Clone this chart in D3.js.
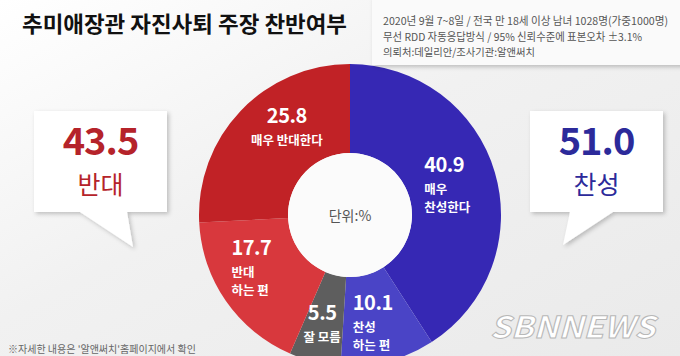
<!DOCTYPE html>
<html><head><meta charset="utf-8">
<script src="https://cdn.jsdelivr.net/npm/d3@7/dist/d3.min.js"></script>
<style>
html,body{margin:0;padding:0;background:#efefef;}
svg{display:block;}
text{font-family:"Noto Sans CJK KR","Noto Sans",sans-serif;}
</style></head>
<body>
<svg id="chart" width="680" height="356"></svg>
<script>
// ---- data ----
const title = "추미애장관 자진사퇴 주장 찬반여부";
const infoLines = [
  "2020년 9월 7~8일 / 전국 만 18세 이상 남녀 1028명(가중1000명)",
  "무선 RDD 자동응답방식 / 95% 신뢰수준에 표본오차 ±3.1%",
  "의뢰처:데일리안/조사기관:알앤써치"
];
const categories = ["매우 찬성한다", "찬성 하는 편", "잘 모름", "반대 하는 편", "매우 반대한다"];
const values = [40.9, 10.1, 5.5, 17.7, 25.8];
const labelLines = [["매우", "찬성한다"], ["찬성", "하는 편"], ["잘 모름"], ["반대", "하는 편"], ["매우 반대한다"]];
const summaryNames = ["반대", "찬성"];
const summaryValues = [43.5, 51.0];
const unitLabel = "단위:%";
const footnote = "※자세한 내용은 '알앤써치'홈페이지에서 확인";

// ---- style ----
const colors = ["#3628b4", "#4a44c6", "#5e5e5e", "#d8383d", "#c12226"];
const labelStyle = [
  {anchor: "start", dx: -28, dy: -3},
  {anchor: "start", dx: -24, dy: 2},
  {anchor: "middle", dx: -3, dy: 3},
  {anchor: "start", dx: -31, dy: -11},
  {anchor: "middle", dx: 14, dy: -17}
];
const lineStep = 18.2;
const infoLengths = [285, 259, 152];
const summaryColors = ["#b5232a", "#2c2a9a"];

const svg = d3.select("#chart");
const W = 680, H = 356;
const defs = svg.append("defs");
const bg = defs.append("linearGradient").attr("id", "bg").attr("x1", 0).attr("y1", 0).attr("x2", 1).attr("y2", 1);
bg.append("stop").attr("offset", "0%").attr("stop-color", "#ffffff");
bg.append("stop").attr("offset", "45%").attr("stop-color", "#f1f1f1");
bg.append("stop").attr("offset", "100%").attr("stop-color", "#eaeaea");
const sh = defs.append("filter").attr("id", "shadow").attr("x", "-20%").attr("y", "-20%").attr("width", "150%").attr("height", "150%");
sh.append("feDropShadow").attr("dx", 2).attr("dy", 2).attr("stdDeviation", 2).attr("flood-color", "#000").attr("flood-opacity", 0.22);

svg.append("rect").attr("width", W).attr("height", H).attr("fill", "url(#bg)");

// ---- donut ----
const cx = 350, cy = 215, rOuter = 151, rInner = 62;
const pie = d3.pie().sort(null).value(d => d);
const arcs = pie(values);
const arc = d3.arc().innerRadius(rInner).outerRadius(rOuter);
const g = svg.append("g").attr("transform", `translate(${cx},${cy})`);
g.selectAll("path.slice").data(arcs).join("path")
  .attr("class", "slice").attr("d", arc).attr("fill", (d, i) => colors[i]);
g.append("circle").attr("r", rInner).attr("fill", "#fbfbfb");
g.append("text").attr("text-anchor", "middle").attr("dy", 6)
  .attr("font-size", 14).attr("fill", "#555").text(unitLabel);

// slice labels
const lab = g.selectAll("g.lab").data(arcs).join("g").attr("class", "lab")
  .attr("transform", (d, i) => {
    const c = arc.centroid(d);
    return `translate(${c[0] + labelStyle[i].dx},${c[1] + labelStyle[i].dy})`;
  });
lab.each(function(d, i) {
  const sel = d3.select(this);
  const lines = labelLines[i];
  const total = 22 + lines.length * 16;
  const y0 = -total / 2 + 17;
  sel.append("text").attr("x", 0).attr("y", y0).attr("text-anchor", labelStyle[i].anchor)
    .attr("font-size", 20).attr("font-weight", 700).attr("fill", "#fff").attr("letter-spacing", -0.5)
    .text(d3.format(".1f")(values[i]));
  lines.forEach((ln, k) => {
    sel.append("text").attr("x", 0).attr("y", y0 + 22 + k * lineStep).attr("text-anchor", labelStyle[i].anchor)
      .attr("font-size", 12.5).attr("font-weight", 700).attr("fill", "#fff").text(ln);
  });
});

// ---- info box ----
svg.append("rect").attr("x", 372).attr("y", -4).attr("width", 312).attr("height", 69)
  .attr("fill", "#fafafa").attr("filter", "url(#shadow)");
svg.selectAll("text.info").data(infoLines).join("text").attr("class", "info")
  .attr("x", 383).attr("y", (d, i) => 25 + i * 15.5)
  .attr("fill", "#555").attr("font-size", (d, i) => i === 2 ? 10.5 : 11)
  .attr("textLength", (d, i) => infoLengths[i]).attr("lengthAdjust", "spacingAndGlyphs")
  .text(d => d);

// ---- title ----
svg.append("text").attr("x", 22).attr("y", 32).attr("font-size", 22).attr("font-weight", 700)
  .attr("fill", "#111").attr("textLength", 325).attr("lengthAdjust", "spacingAndGlyphs").text(title);

// ---- speech bubbles ----
const bubbles = [
  {x: 34, y: 111, w: 133, h: 101, tail: [[80, 212], [127, 212], [133, 247]]},
  {x: 530, y: 111, w: 133, h: 101, tail: [[570, 212], [613, 212], [563, 245]]}
];
bubbles.forEach((b, i) => {
  const p = d3.path();
  p.moveTo(b.x, b.y); p.lineTo(b.x + b.w, b.y); p.lineTo(b.x + b.w, b.y + b.h);
  p.lineTo(b.tail[1][0], b.tail[1][1]); p.lineTo(b.tail[2][0], b.tail[2][1]); p.lineTo(b.tail[0][0], b.tail[0][1]);
  p.lineTo(b.x, b.y + b.h); p.closePath();
  svg.append("path").attr("d", p.toString()).attr("fill", "#fff").attr("filter", "url(#shadow)");
  const mx = b.x + b.w / 2;
  svg.append("text").attr("x", mx).attr("y", b.y + 44).attr("text-anchor", "middle")
    .attr("font-size", 38).attr("font-weight", 700).attr("fill", summaryColors[i]).attr("letter-spacing", -1)
    .text(d3.format(".1f")(summaryValues[i]));
  svg.append("text").attr("x", mx).attr("y", b.y + 83).attr("text-anchor", "middle")
    .attr("font-size", 25).attr("font-weight", 400).attr("fill", summaryColors[i])
    .text(summaryNames[i]);
});

// ---- footnote & watermark ----
svg.append("text").attr("x", 8).attr("y", 353).attr("font-size", 10).attr("fill", "#666").text(footnote);
svg.append("text").attr("x", 490).attr("y", 338).attr("font-family", "DejaVu Sans")
  .attr("font-size", 30).attr("font-weight", 700).attr("font-style", "italic")
  .attr("fill", "#ffffff").attr("stroke", "#b8b8b8").attr("stroke-width", 1)
  .attr("textLength", 165).attr("lengthAdjust", "spacingAndGlyphs").text("SBNNEWS");
</script>
</body></html>
